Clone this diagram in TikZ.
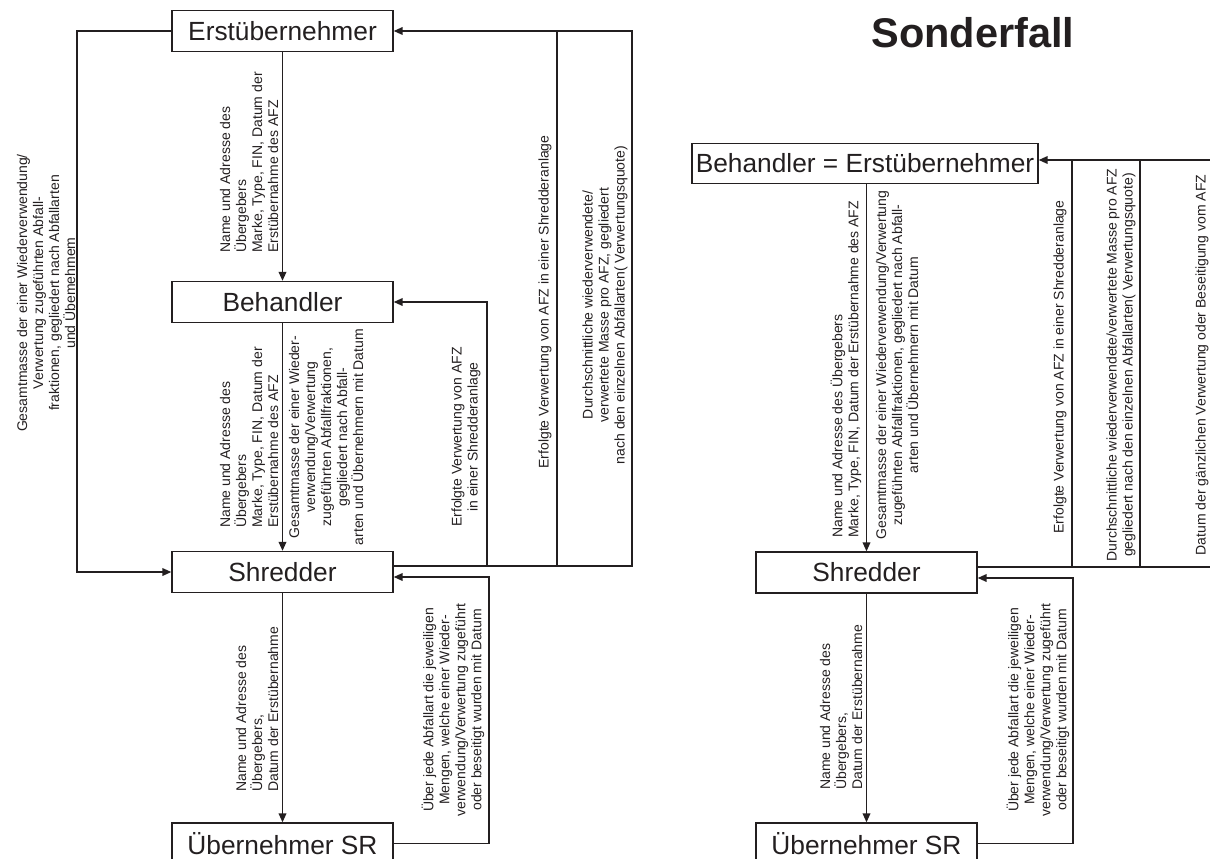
\documentclass[tikz,border=0pt]{standalone}
\usepackage{fontspec}
\setmainfont{Liberation Sans}
\usetikzlibrary{arrows.meta}
\definecolor{ink}{HTML}{231F20}
\tikzset{
  box/.style={draw=ink, line width=1.2pt, minimum width=221pt, minimum height=41pt,
    inner sep=0pt, text=ink, font=\fontsize{26.3}{30}\selectfont},
  link/.style={draw=ink, line width=1.8pt},
  arr/.style={link, -{Triangle[length=9pt,width=7.5pt]}},
  lbl/.style={rotate=90, inner sep=0pt, text=ink, font=\fontsize{14}{16}\selectfont},
  lblL/.style={lbl, align=left, anchor=west},
  lblC/.style={lbl, align=center},
}
\begin{document}
\begin{tikzpicture}[x=1pt,y=-1pt]
\useasboundingbox (0,0) rectangle (1210,859);
\clip (0,0) rectangle (1210,859);

% ---------- general case ----------
\node[box] (erst) at (282.5,31) {Erstübernehmer};
\node[box] (beh)  at (282.5,302) {Behandler};
\node[box] (shr)  at (282.5,572) {Shredder};
\node[box] (uesr) at (282.5,843.5) {Übernehmer SR};

\draw[arr] (erst) -- (beh);
\draw[arr] (beh) -- (shr);
\draw[arr] (shr) -- (uesr);

\coordinate (lt) at (77,31);
\draw[arr] (erst.west) -- (lt) |- (shr.west);

\coordinate (ro) at (632,31);
\coordinate (rm) at (557,31);
\coordinate (rb) at (557,566);
\coordinate (rs) at (487,566);
\draw[arr] ([yshift=6pt]shr.east) -| (ro) -- (erst.east);
\draw[link] (rm) -- (rb);
\draw[arr] (rs) |- (beh.east);
\draw[arr] (uesr.east) -- ++(95,0) |- ([yshift=-5pt]shr.east);

\node[lblL] (t1) at (249,253) {Name und Adresse des\\Übergebers\\Marke, Type, FIN, Datum der\\Erstübernahme des AFZ};
\node[lblL] (t2) at (249,528) {Name und Adresse des\\Übergebers\\Marke, Type, FIN, Datum der\\Erstübernahme des AFZ};
\node[lblC] (t3) at (326,437) {Gesamtmasse der einer Wieder-\\verwendung/Verwertung\\zugeführten Abfallfraktionen,\\gegliedert nach Abfall-\\arten und Übernehmern mit Datum};
\node[lblC] (t4) at (466,437) {Erfolgte Verwertung von AFZ\\in einer Shredderanlage};
\node[lblC] (t5) at (545,302) {Erfolgte Verwertung von AFZ in einer Shredderanlage};
\node[lblC] (t6) at (605,305) {Durchschnittliche wiederverwendete/\\verwertete Masse pro AFZ, gegliedert\\nach den einzelnen Abfallarten( Verwertungsquote)};
\node[lblC] (t7) at (46,293) {Gesamtmasse der einer Wiederverwendung/\\Verwertung zugeführten Abfall-\\fraktionen, gegliedert nach Abfallarten\\und Übemehmem};
\node[lblL] (t8) at (257,792) {Name und Adresse des\\Übergebers,\\Datum der Erstübernahme};
\node[lblC] (t9) at (453,710) {Über jede Abfallart die jeweiligen\\Mengen, welche einer Wieder-\\verwendung/Verwertung zugeführt\\oder beseitigt wurden mit Datum};

% ---------- special case ----------
\node[text=ink, font=\bfseries\fontsize{41.5}{48}\selectfont, anchor=base, inner sep=0pt] (title) at (973,48) {Sonderfall};

\node[box, minimum width=346pt, minimum height=40pt] (be) at (865,163.5) {Behandler = Erstübernehmer};
\node[box] (shr2)  at (866.5,572.5) {Shredder};
\node[box] (uesr2) at (866.5,843.5) {Übernehmer SR};

\draw[arr] (be.south -| shr2) -- (shr2);
\draw[arr] (shr2) -- (uesr2);

\coordinate (qb) at (1222,567);
\coordinate (qt) at (1222,160);
\draw[arr] ([yshift=5.5pt]shr2.east) -- (qb) -- (qt) -- ([yshift=3.5pt]be.east);
\coordinate (v1t) at (1072,160);
\coordinate (v1b) at (1072,567);
\coordinate (v2t) at (1140,160);
\coordinate (v2b) at (1140,567);
\draw[link] (v1t) -- (v1b);
\draw[link] (v2t) -- (v2b);
\draw[arr] (uesr2.east) -- ++(95,0) |- ([yshift=-5.5pt]shr2.east);

\node[lblL] (s1) at (846,538) {Name und Adresse des Übergebers\\Marke, Type, FIN, Datum der Erstübernahme des AFZ};
\node[lblC] (s2) at (897,365) {Gesamtmasse der einer Wiederverwendung/Verwertung\\zugeführten Abfallfraktionen, gegliedert nach Abfall-\\arten und Übernehmern mit Datum};
\node[lblC] (s3) at (1060,367) {Erfolgte Verwertung von AFZ in einer Shredderanlage};
\node[lblC] (s4) at (1121,365) {Durchschnittliche wiederverwendete/verwertete Masse pro AFZ\\gegliedert nach den einzelnen Abfallarten( Verwertungsquote)};
\node[lblC] (s5) at (1202,365) {Datum der gänzlichen Verwertung oder Beseitigung vom AFZ};
\node[lblL] (s6) at (841,790) {Name und Adresse des\\Übergebers,\\Datum der Erstübernahme};
\node[lblC] (s7) at (1038,710) {Über jede Abfallart die jeweiligen\\Mengen, welche einer Wieder-\\verwendung/Verwertung zugeführt\\oder beseitigt wurden mit Datum};
\end{tikzpicture}
\end{document}
